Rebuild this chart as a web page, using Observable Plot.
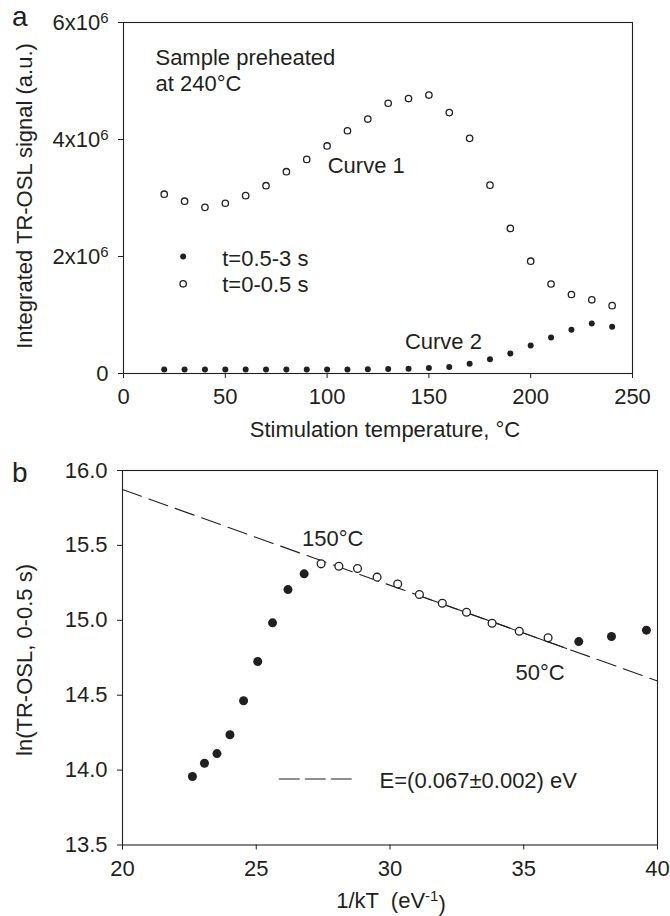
<!DOCTYPE html>
<html><head><meta charset="utf-8">
<script src="https://cdn.jsdelivr.net/npm/d3@7"></script>
<script src="https://cdn.jsdelivr.net/npm/@observablehq/plot@0.6"></script>
<style>
body{margin:0;background:#fff;}
#wrap{position:relative;width:670px;height:916px;font-family:"Liberation Sans",Arial,Helvetica,sans-serif;}
#wrap svg{position:absolute;left:0;overflow:visible;}
</style></head><body><div id="wrap"></div>
<script>
// ---------- data ----------
const temps = [20,30,40,50,60,70,80,90,100,110,120,130,140,150,160,170,180,190,200,210,220,230,240];
// t=0-0.5 s (open circles), units of 1e6
const signalEarly = [3.065,2.945,2.84,2.91,3.04,3.21,3.45,3.66,3.89,4.15,4.35,4.62,4.70,4.76,4.46,4.02,3.22,2.48,1.92,1.53,1.35,1.26,1.16];
// t=0.5-3 s (filled circles), units of 1e6
const signalLate = [0.07,0.07,0.07,0.07,0.07,0.07,0.07,0.07,0.07,0.07,0.072,0.076,0.08,0.094,0.11,0.165,0.245,0.34,0.48,0.615,0.75,0.855,0.80];
const xTicksA = [0,50,100,150,200,250];
const yTicksA = [0,2e6,4e6,6e6];

// panel b : 1/kT (eV^-1) and ln(TR-OSL, 0-0.5 s), ordered 240 -> 20 C
const invKT = [22.614,23.064,23.531,24.018,24.526,25.056,25.609,26.186,26.791,27.424,28.088,28.785,29.517,30.287,31.099,31.955,32.860,33.817,34.832,35.910,37.057,38.280,39.586];
const lnSignal = [13.957,14.046,14.110,14.236,14.463,14.725,14.983,15.205,15.310,15.377,15.361,15.346,15.288,15.242,15.172,15.114,15.054,14.980,14.927,14.883,14.858,14.892,14.934];
const inFit = [false,false,false,false,false,false,false,false,false,true,true,true,true,true,true,true,true,true,true,true,false,false,false];
const fitLineX = [20,40];
const fitLineY = [15.873,14.595];
const fitSolidX = [31.1,36.6];
const fitSolidY = [15.164,14.812];
const xTicksB = [20,25,30,35,40];
const yTicksB = [13.5,14.0,14.5,15.0,15.5,16.0];

// ---------- drawing ----------
const FONT = '"Liberation Sans", Arial, Helvetica, sans-serif';
const INK = "#231f20";
const wrap = document.getElementById("wrap");

const rowsA = temps.map((t,i)=>({t, early: signalEarly[i]*1e6, late: signalLate[i]*1e6}));
const rowsB = invKT.map((x,i)=>({x, y: lnSignal[i], fit: inFit[i]}));

const common = {style:{fontFamily:FONT,fontSize:"22px",color:INK,background:"transparent",overflow:"visible"}};

const plotA = Plot.plot({
  ...common,
  width:670, height:440,
  marginLeft:123, marginRight:38, marginTop:22, marginBottom:67,
  x:{domain:[0,250]},
  y:{domain:[0,6e6]},
  marks:[
    Plot.frame({stroke:INK, strokeWidth:1.1}),
    Plot.axisX({ticks:xTicksA, tickSize:5, tickPadding:10, label:null, stroke:INK}),
    Plot.axisY({ticks:yTicksA, tickSize:5, tickPadding:10, label:null, stroke:INK,
      tickFormat:d=> d===0 ? "0" : `${d/1e6}x10^6`}),
    Plot.dot(rowsA,{x:"t", y:"early", r:3.2, stroke:INK, strokeWidth:1.3, fill:"white"}),
    Plot.dot(rowsA,{x:"t", y:"late", r:3, fill:INK, stroke:"none"}),
    // legend symbols
    Plot.dot([{x:29.3,y:2.0e6}],{x:"x",y:"y",r:3,fill:INK,stroke:"none"}),
    Plot.dot([{x:29.3,y:1.533e6}],{x:"x",y:"y",r:3.2,stroke:INK,strokeWidth:1.3,fill:"white"}),
    Plot.text([
      {x:15.7,y:5.265e6,t:"Sample preheated"},
      {x:15.7,y:4.826e6,t:"at 240°C"},
      {x:100.3,y:3.424e6,t:"Curve 1"},
      {x:138.2,y:0.422e6,t:"Curve 2"},
      {x:48.5,y:1.846e6,t:"t=0.5-3 s"},
      {x:48.5,y:1.39e6,t:"t=0-0.5 s"}
    ],{x:"x",y:"y",text:"t",textAnchor:"start",lineAnchor:"bottom",fontSize:22,fill:INK})
  ]
});

const plotB = Plot.plot({
  ...common,
  width:670, height:476,
  marginLeft:122, marginRight:13, marginTop:30, marginBottom:71.5,
  x:{domain:[20,40]},
  y:{domain:[13.5,16]},
  marks:[
    Plot.frame({stroke:INK, strokeWidth:1.1}),
    Plot.axisX({ticks:xTicksB, tickSize:5, tickPadding:10, label:null, stroke:INK}),
    Plot.axisY({ticks:yTicksB, tickSize:5, tickPadding:10, label:null, stroke:INK, tickFormat:".1f"}),
    Plot.line(fitLineX.map((x,i)=>({x,y:fitLineY[i]})),{x:"x",y:"y",stroke:INK,strokeWidth:1.1,strokeDasharray:"20,8"}),
    Plot.line(fitSolidX.map((x,i)=>({x,y:fitSolidY[i]})),{x:"x",y:"y",stroke:INK,strokeWidth:1.1}),
    Plot.dot(rowsB.filter(d=>!d.fit),{x:"x",y:"y",r:4.5,fill:INK,stroke:"none"}),
    Plot.dot(rowsB.filter(d=>d.fit),{x:"x",y:"y",r:3.9,stroke:INK,strokeWidth:1.3,fill:"white"}),
    // legend line
    Plot.line([{x:25.86,y:13.941},{x:28.59,y:13.941}],{x:"x",y:"y",stroke:INK,strokeWidth:1.1,strokeDasharray:"20,6"}),
    Plot.text([
      {x:26.71,y:15.493,t:"150°C"},
      {x:34.69,y:14.603,t:"50°C"},
      {x:29.61,y:13.88,t:"E=(0.067±0.002) eV"}
    ],{x:"x",y:"y",text:"t",textAnchor:"start",lineAnchor:"bottom",fontSize:22,fill:INK})
  ]
});

plotA.style.top = "0px";
plotB.style.top = "440px";
wrap.appendChild(plotA);
wrap.appendChild(plotB);

// superscripts in tick labels
d3.select(plotA).selectAll("text").each(function(){
  const s = this.textContent;
  if (s.includes("^")) {
    const [base, sup] = s.split("^");
    const t = d3.select(this);
    t.text(null);
    t.append("tspan").text(base);
    t.append("tspan").attr("dy","-0.42em").attr("font-size","15px").text(sup);
  }
});

// titles and panel letters
function addText(svg, x, y, rot, anchor, size, parts){
  const t = d3.select(svg).append("text")
    .attr("transform", `translate(${x},${y})` + (rot ? ` rotate(${rot})` : ""))
    .attr("text-anchor", anchor)
    .attr("font-family", FONT).attr("font-size", size).attr("fill", INK)
    .style("white-space","pre");
  parts.forEach(p=>{
    const s = t.append("tspan").text(p.s);
    if (p.sup) s.attr("dy","-0.45em").attr("font-size", Math.round(size*0.68)+"px");
    if (p.down) s.attr("dy","0.45em");
  });
  return t;
}
addText(plotA, 12, 26, 0, "start", 28, [{s:"a"}]);
addText(plotA, 32, 196, -90, "middle", 22, [{s:"Integrated TR-OSL signal (a.u.)"}]);
addText(plotA, 385, 437, 0, "middle", 22, [{s:"Stimulation temperature, °C"}]);

addText(plotB, 12, 42, 0, "start", 28, [{s:"b"}]);
addText(plotB, 32, 220, -90, "middle", 22, [{s:"ln(TR-OSL, 0-0.5 s)"}]);
addText(plotB, 391, 468, 0, "middle", 22, [{s:"1/kT  (eV"},{s:"-1",sup:true},{s:")",down:true}]);
</script>
</body></html>
